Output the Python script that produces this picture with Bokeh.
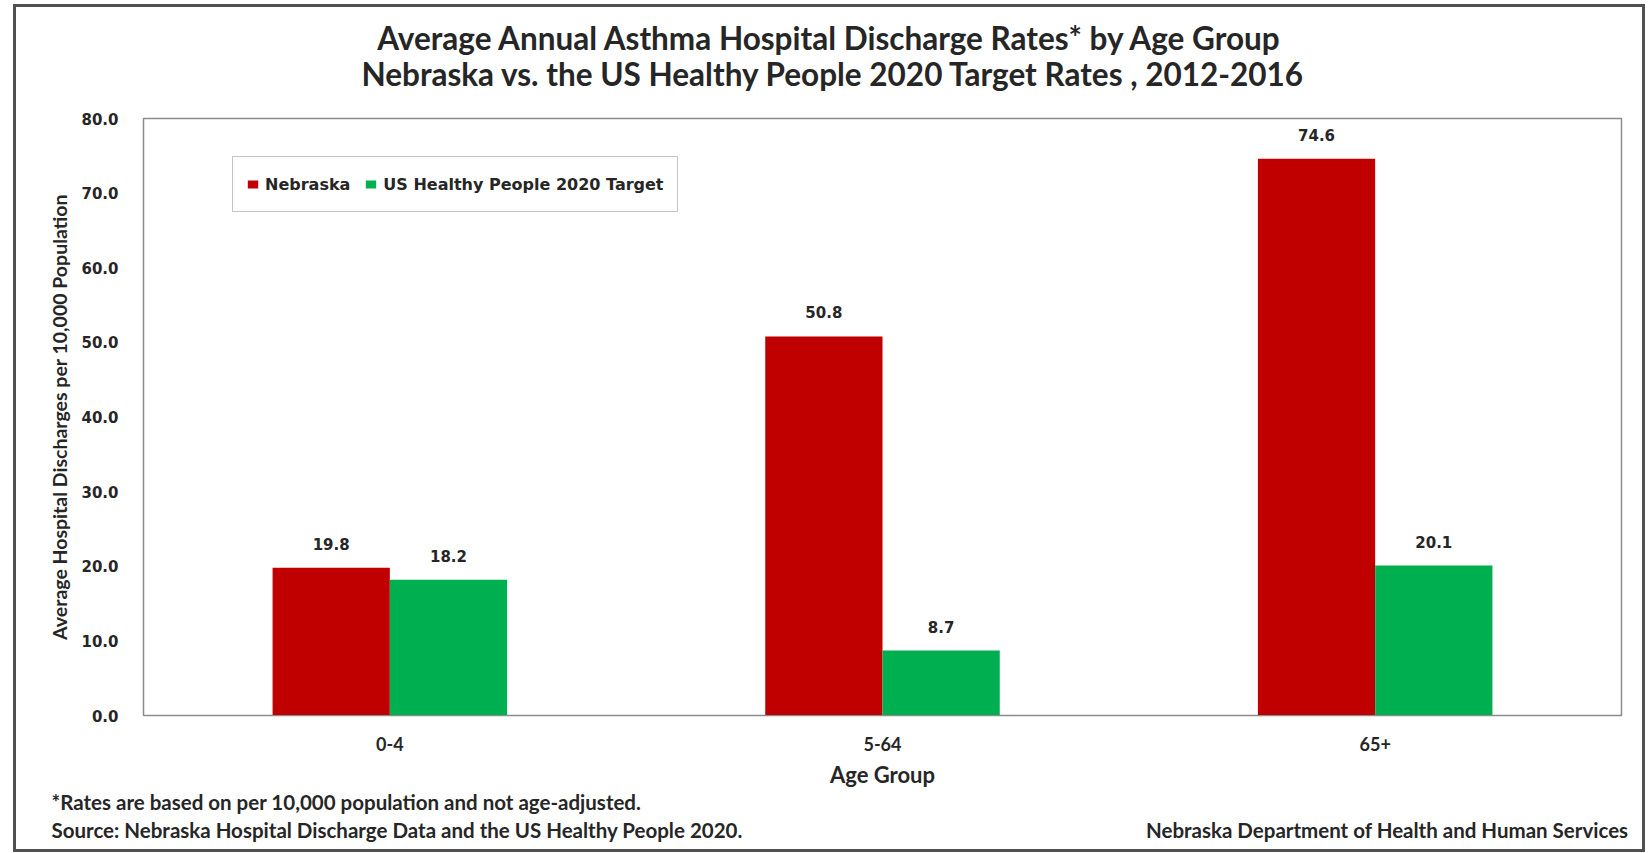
from bokeh.plotting import figure
from bokeh.layouts import column
from bokeh.models import (FactorRange, Range1d, LabelSet, ColumnDataSource, Label,
                          Legend, LegendItem, FixedTicker, CustomJSTickFormatter)
from bokeh.transform import dodge
from bokeh.core.properties import value
from bokeh.embed import file_html
from bokeh.resources import INLINE

# ---- data ----
age_groups = ["0-4", "5-64", "65+"]
nebraska = [19.8, 50.8, 74.6]
us_target = [18.2, 8.7, 20.1]
y_ticks = [0, 10, 20, 30, 40, 50, 60, 70, 80]

title_1 = "Average Annual Asthma Hospital Discharge Rates* by Age Group"
title_2 = "Nebraska vs. the US Healthy People 2020 Target Rates , 2012-2016"
note_1 = "*Rates are based on per 10,000 population and not age-adjusted."
note_2 = "Source: Nebraska Hospital Discharge Data and the US Healthy People 2020."
note_3 = "Nebraska Department of Health and Human Services"

RED = "#C00000"
GREEN = "#00B050"
TXT = "#262626"
GRAY = "#8c8c8c"
CAL = "Lato"
VER = "DejaVu Sans"

WC = 1626          # content width inside the outer border
H_HEAD, H_MAIN, H_FOOT = 101, 682, 59

src = ColumnDataSource(dict(
    age=age_groups, ne=nebraska, us=us_target,
    ne_lbl=[f"{v:.1f}" for v in nebraska], us_lbl=[f"{v:.1f}" for v in us_target]))


def text_panel(h):
    f = figure(width=WC, height=h, output_backend="svg", toolbar_location=None,
               x_range=Range1d(0, 1), y_range=Range1d(0, 1),
               x_axis_type=None, y_axis_type=None, min_border=0, title=None,
               frame_align=False)
    f.outline_line_color = None
    f.grid.visible = False
    f.background_fill_color = "white"
    f.border_fill_color = "white"
    return f


def lab(f, x, y, text, font, size, align):
    f.add_layout(Label(x=x, y=y, x_units="screen", y_units="screen", text=text,
                       text_align=align, text_baseline="middle", text_font=font,
                       text_font_size=size, text_font_style="bold", text_color=TXT))


# ---- header (screen units: from the panel's left / bottom edge) ----
head = text_panel(H_HEAD)
lab(head, 814, 71, title_1, CAL, "31.5px", "center")
lab(head, 817, 35, title_2, CAL, "31.5px", "center")

# ---- main chart ----
p = figure(x_range=FactorRange(*age_groups), y_range=Range1d(0, 80),
           width=WC, height=H_MAIN, output_backend="svg", toolbar_location=None,
           min_border_left=127, min_border_right=21, min_border_top=10,
           min_border_bottom=74, title=None, frame_align=False)
p.background_fill_color = "white"
p.border_fill_color = "white"
p.outline_line_color = GRAY
p.outline_line_width = 1.5
p.grid.visible = False

bw = 0.238
r1 = p.vbar(x=dodge("age", -bw / 2, range=p.x_range), top="ne", width=bw, bottom=0,
            source=src, fill_color=RED, line_color=None)
r2 = p.vbar(x=dodge("age", bw / 2, range=p.x_range), top="us", width=bw, bottom=0,
            source=src, fill_color=GREEN, line_color=None)

for fld, lbl, off in (("ne", "ne_lbl", -bw / 2), ("us", "us_lbl", bw / 2)):
    p.add_layout(LabelSet(x=dodge("age", off, range=p.x_range), y=fld, text=lbl, source=src,
                          text_align="center", text_baseline="bottom", y_offset=18,
                          text_font=value(VER), text_font_size="15px",
                          text_font_style="bold", text_color=TXT))

yax = p.yaxis[0]
yax.ticker = FixedTicker(ticks=y_ticks)
yax.formatter = CustomJSTickFormatter(code="return tick.toFixed(1);")
yax.axis_label = "Average Hospital Discharges per 10,000 Population"
yax.axis_label_text_font = CAL
yax.axis_label_text_font_size = "19.5px"
yax.axis_label_text_font_style = "bold"
yax.axis_label_text_color = TXT
yax.axis_label_standoff = 7
yax.major_label_text_font = VER
yax.major_label_text_font_size = "15px"
yax.major_label_text_font_style = "bold"
yax.major_label_text_color = TXT
yax.major_label_standoff = 19
yax.major_tick_line_color = None
yax.minor_tick_line_color = None
yax.axis_line_color = GRAY

xax = p.xaxis[0]
xax.axis_label = "Age Group"
xax.axis_label_text_font = CAL
xax.axis_label_text_font_size = "22px"
xax.axis_label_text_font_style = "bold"
xax.axis_label_text_color = TXT
xax.axis_label_standoff = 7
xax.major_label_text_font = CAL
xax.major_label_text_font_size = "18px"
xax.major_label_text_font_style = "bold"
xax.major_label_text_color = TXT
xax.major_label_standoff = 15
xax.major_tick_line_color = None
xax.axis_line_color = GRAY

legend = Legend(items=[LegendItem(label="Nebraska", renderers=[r1]),
                       LegendItem(label="US Healthy People 2020 Target", renderers=[r2])],
                location=(89, 503), orientation="horizontal",
                label_text_font=VER, label_text_font_size="16px",
                label_text_font_style="bold", label_text_color=TXT,
                glyph_width=13, glyph_height=10, label_standoff=6, spacing=14,
                label_height=28, padding=13, margin=0,
                border_line_color=GRAY, border_line_width=1.5,
                background_fill_color="white")
p.add_layout(legend, "center")

# ---- footer ----
foot = text_panel(H_FOOT)
lab(foot, 35, 48, note_1, CAL, "20.5px", "left")
lab(foot, 35, 20, note_2, CAL, "20.5px", "left")
lab(foot, 1612, 20, note_3, CAL, "20.5px", "right")

layout = column(head, p, foot, spacing=0, margin=(4, 0, 0, 13),
                styles={"border": "3px solid #505050"})

open("out.html", "w").write(file_html(layout, INLINE))
